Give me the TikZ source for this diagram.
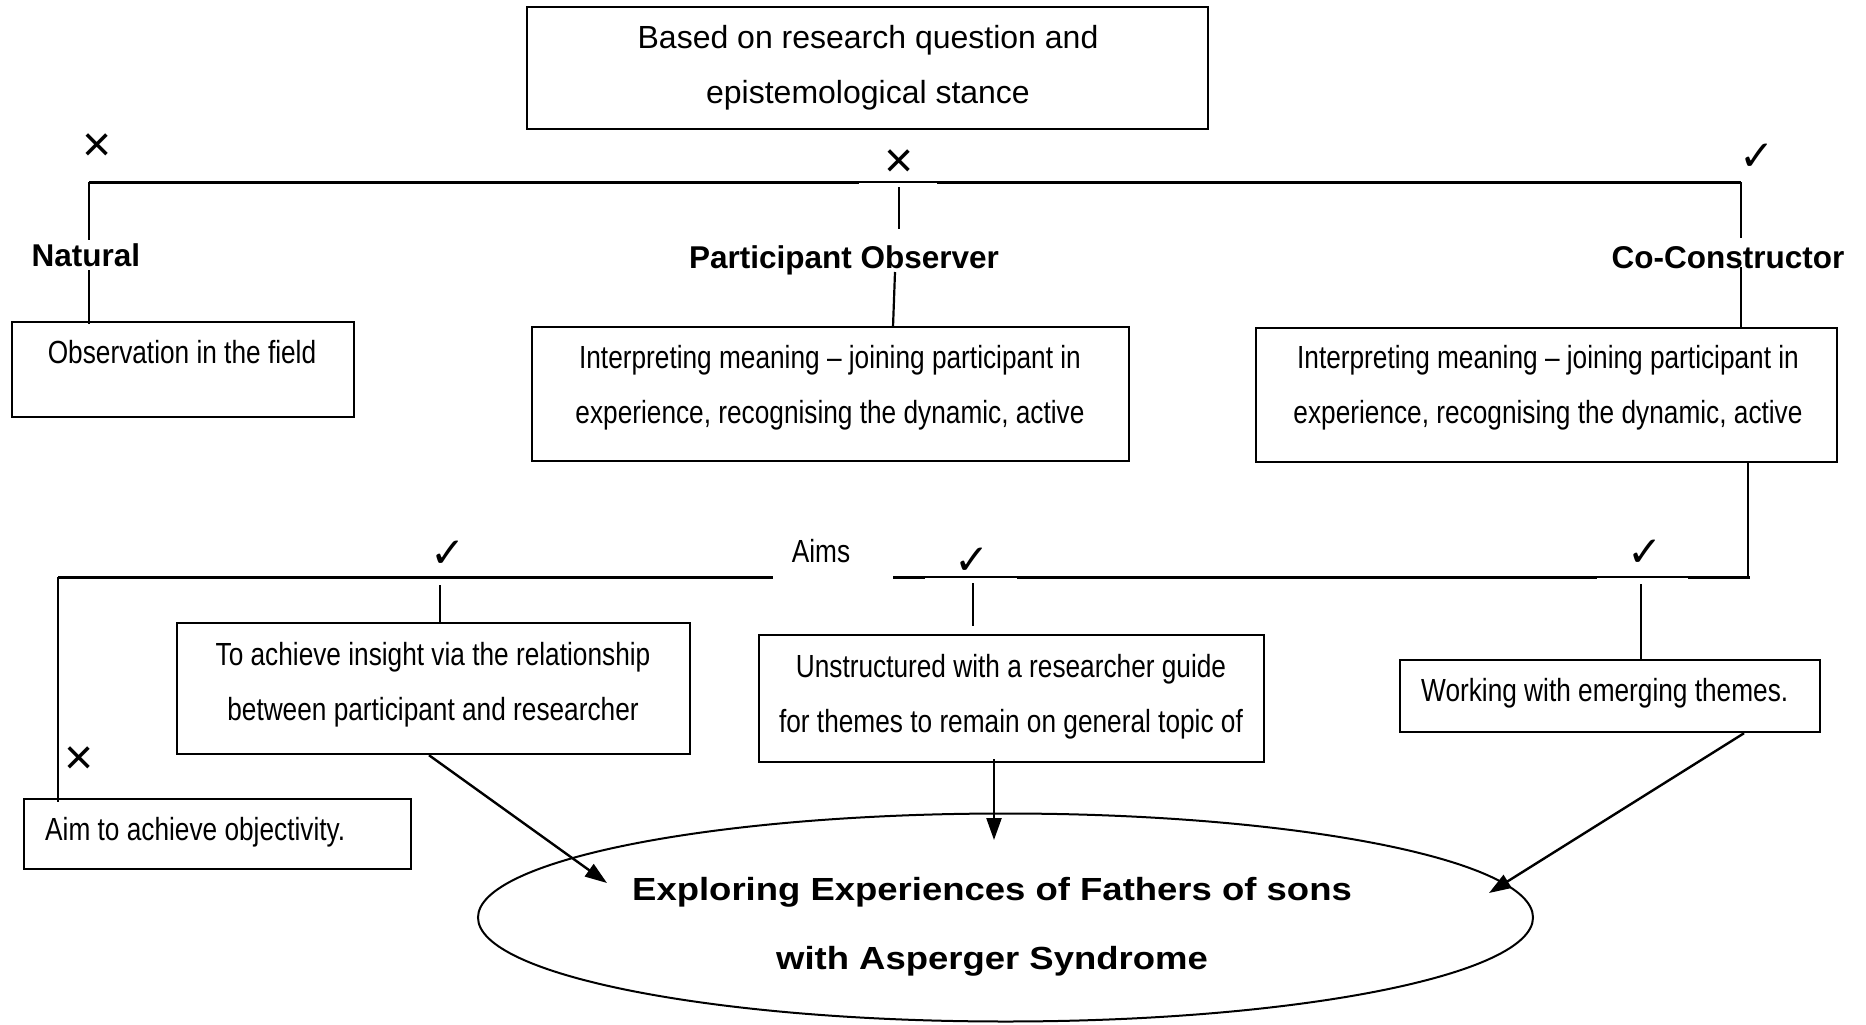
\documentclass[tikz,border=0pt]{standalone}
\usepackage{fontspec}
\setmainfont{Liberation Sans}
\newfontfamily\narrowfont[FakeStretch=0.82]{Liberation Sans}
\newfontfamily\widefont[FakeStretch=1.14]{Liberation Sans}
\newfontfamily\symfont{DejaVu Sans}
\usetikzlibrary{arrows.meta,shapes.geometric,calc}
\begin{document}
\begin{tikzpicture}[x=1pt,y=-1pt,
  box/.style={draw, line width=2.4pt, inner sep=0pt},
  txt/.style={font=\narrowfont\fontsize{32}{55}\selectfont, align=center, inner sep=0pt},
  toptxt/.style={font=\fontsize{32}{55}\selectfont, align=center, inner sep=0pt},
  lbl/.style={font=\bfseries\fontsize{31.5}{38}\selectfont, inner sep=0pt},
  conn/.style={line width=2.2pt},
  bar/.style={line width=3pt},
  thinbar/.style={line width=1.6pt},
  markx/.style={font=\fontsize{50}{50}\selectfont, inner sep=0pt},
  markok/.style={font=\symfont\fontsize{42}{42}\selectfont, inner sep=0pt},
  arr/.style={line width=2.4pt, -{Triangle[length=22pt,width=15pt]}}]
\useasboundingbox (0,0) rectangle (1866,1025);

% boxes
\node[box, minimum width=681pt, minimum height=122pt] (top) at (867.5,68) {};
\node[toptxt] (toptext) at (868,68) {Based on research question and\\epistemological stance};

\node[box, minimum width=342pt, minimum height=95pt] (obs) at (183,369.5) {};
\node[txt] (obstext) at (182,352.5) {Observation in the field};

\node[box, minimum width=597pt, minimum height=134pt] (part) at (830.5,394) {};
\node[txt] (parttext) at (830,388) {Interpreting meaning – joining participant in\\experience, recognising the dynamic, active};

\node[box, minimum width=581pt, minimum height=134pt] (co) at (1546.5,395) {};
\node[txt] (cotext) at (1548,388) {Interpreting meaning – joining participant in\\experience, recognising the dynamic, active};

\node[box, minimum width=513pt, minimum height=131pt] (ins) at (433.5,688.5) {};
\node[txt] (instext) at (433,685) {To achieve insight via the relationship\\between participant and researcher};

\node[box, minimum width=505pt, minimum height=127pt] (uns) at (1011.5,698.5) {};
\node[txt] (unstext) at (1011,696.5) {Unstructured with a researcher guide\\for themes to remain on general topic of};

\node[box, minimum width=420pt, minimum height=72pt] (work) at (1610,696) {};
\node[txt, anchor=west] (worktext) at (1421,693) {Working with emerging themes.};

\node[box, minimum width=387pt, minimum height=70pt] (aim) at (217.5,834) {};
\node[txt, anchor=west] (aimtext) at (45,832) {Aim to achieve objectivity.};

\node[draw, ellipse, line width=2pt, minimum width=1055pt, minimum height=208pt, inner sep=0pt] (ell) at (1005.5,917.5) {};
\node[font=\widefont\bfseries\fontsize{32}{69}\selectfont, align=center, inner sep=0pt] (elltext) at (992,926.5) {Exploring Experiences of Fathers of sons\\with Asperger Syndrome};

% top bar
\coordinate (tL) at (89,182);
\coordinate (tg1) at (859,182);
\coordinate (tg2) at (937,182);
\coordinate (tR) at (1741,182);
\draw[bar] (tL) -- (tg1);
\draw[thinbar] (tg1) -- (tg2);
\draw[bar] (tg2) -- (tR);

% natural branch
\draw[conn] (tL) -- ($(obs.north -| tL)+(0,3)$);
\node[lbl, fill=white, inner sep=3pt] (nat) at (86,255) {Natural};

% participant observer branch
\node[lbl] (po) at (844,260) {Participant Observer};
\coordinate (pm1) at (899,187);
\coordinate (pm2) at (899,229);
\coordinate (pm3) at (895,272);
\coordinate (pm4) at (893,327);
\draw[conn] (pm1) -- (pm2);
\draw[conn] (pm3) -- (pm4);

% co-constructor branch
\node[lbl] (cc) at (1728,258) {Co-Constructor};
\coordinate (cc1) at (1741,238);
\coordinate (cc2) at (1741,267);
\draw[conn] (tR) -- (cc1);
\draw[conn] (cc2) -- (co.north -| cc2);

% marks top
\node[markx] (x1) at (97,148) {×};
\node[markx] (x2) at (899,164) {×};
\node[markok] (ok1) at (1757,157) {✓};

% aims bar
\coordinate (aL) at (58,577);
\coordinate (a1) at (773,577);
\coordinate (a2) at (893,577);
\coordinate (a3) at (925,577);
\coordinate (a4) at (1017,577);
\coordinate (a5) at (1597,577);
\coordinate (a6) at (1688,577);
\coordinate (aR) at (1750,577);
\coordinate (aV) at (1748,577);
\draw[bar] (aL) -- (a1);
\draw[bar] (a2) -- (a3);
\draw[thinbar] (a3) -- (a4);
\draw[bar] (a4) -- (a5);
\draw[thinbar] (a5) -- (a6);
\draw[bar] (a6) -- (aR);
\draw[conn] (co.south -| aV) -- (aV);

\node[font=\narrowfont\fontsize{32}{38}\selectfont, inner sep=0pt] (aims) at (821,551) {Aims};

% aims branches
\draw[conn] (aL) -- ($(aim.north -| aL)+(0,4)$);
\coordinate (b1) at (440,585);
\draw[conn] (b1) -- (ins.north -| b1);
\coordinate (b2) at (973,583);
\coordinate (b3) at (973,626);
\draw[conn] (b2) -- (b3);
\coordinate (b4) at (1641,584);
\draw[conn] (b4) -- (work.north -| b4);

\node[markok] (ok2) at (448,554) {✓};
\node[markok] (ok3) at (972,561) {✓};
\node[markok] (ok4) at (1645,553) {✓};
\node[markx] (x3) at (79,761) {×};

% arrows to ellipse
\coordinate (e1) at (607,883);
\coordinate (e2) at (994,840);
\coordinate (e3) at (1489,893);
\draw[arr] ([xshift=-4.5pt]ins.south) -- (e1);
\draw[arr] ([xshift=-17.5pt,yshift=4pt]uns.south) -- (e2);
\draw[arr] ([xshift=134pt]work.south) -- (e3);
\end{tikzpicture}
\end{document}
